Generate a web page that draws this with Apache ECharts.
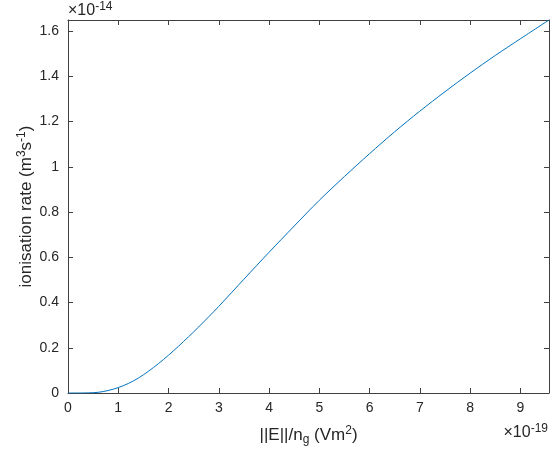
<!DOCTYPE html>
<html>
<head>
<meta charset="utf-8">
<script src="https://cdn.jsdelivr.net/npm/echarts@6/dist/echarts.min.js"></script>
<style>
html,body{margin:0;padding:0;background:#fff;}
#c{width:550px;height:460px;}
</style>
</head>
<body>
<div id="c"></div>
<script>
// E/n_g in units of 1e-19 V m^2
var fieldValues = [0, 0.2, 0.4, 0.6, 0.8, 1.0, 1.2, 1.4, 1.6, 1.8, 2.0, 2.2, 2.4, 2.6, 2.8, 3.0, 3.5, 4.0, 4.5, 5.0, 5.5, 6.0, 6.5, 7.0, 7.5, 8.0, 8.5, 9.0, 9.57];
// ionisation rate in units of 1e-14 m^3 s^-1
var rateValues = [0, 0, 0.0005, 0.003, 0.011, 0.024, 0.042, 0.066, 0.096, 0.13, 0.167, 0.207, 0.249, 0.292, 0.337, 0.383, 0.503, 0.622, 0.738, 0.852, 0.957, 1.058, 1.155, 1.246, 1.332, 1.414, 1.492, 1.566, 1.649];
var xTickLabels = ['0','1','2','3','4','5','6','7','8','9'];
var yTickLabels = ['0','0.2','0.4','0.6','0.8','1','1.2','1.4','1.6'];
var xExponent = '-19';
var yExponent = '-14';

var xMin = 0, xMax = fieldValues[fieldValues.length - 1];
var yMin = 0, yMax = rateValues[rateValues.length - 1];

var data = fieldValues.map(function (x, i) { return [x, rateValues[i]]; });

var axisColor = '#404040';
var textColor = '#262626';
var font = 'Liberation Sans';

function labelFmt(list) {
  return function (v) {
    var s = String(Math.round(v * 1000) / 1000);
    return list.indexOf(s) >= 0 ? s : '';
  };
}

var supStyle = {fontSize: 12, fontFamily: font, color: textColor, padding: [0, 0, 9, 0]};
var subStyle = {fontSize: 12, fontFamily: font, color: textColor, padding: [0, 0, -9, 0]};

var chart = echarts.init(document.getElementById('c'), null, {renderer: 'canvas'});
chart.setOption({
  backgroundColor: '#fff',
  animation: false,
  grid: {left: 68, right: 1, top: 20, bottom: 67},
  xAxis: [{
    type: 'value', min: xMin, max: xMax, interval: 1,
    axisLine: {show: true, onZero: false, lineStyle: {color: axisColor, width: 1}},
    axisTick: {show: true, inside: true, length: 5, lineStyle: {color: axisColor}},
    splitLine: {show: false},
    axisLabel: {color: textColor, fontFamily: font, fontSize: 14, margin: 8, showMaxLabel: false, formatter: labelFmt(xTickLabels)},
    name: '||E||/n{sub|g} (Vm{sup|2})',
    nameLocation: 'middle', nameGap: 32,
    nameTextStyle: {color: textColor, fontFamily: font, fontSize: 17, rich: {sub: subStyle, sup: supStyle}}
  }, {
    type: 'value', position: 'top', min: xMin, max: xMax, interval: 1,
    axisLine: {show: true, onZero: false, lineStyle: {color: axisColor, width: 1}},
    axisTick: {show: true, inside: true, length: 5, lineStyle: {color: axisColor}},
    splitLine: {show: false}, axisLabel: {show: false}
  }],
  yAxis: [{
    type: 'value', min: yMin, max: yMax, interval: 0.2,
    axisLine: {show: true, onZero: false, lineStyle: {color: axisColor, width: 1}},
    axisTick: {show: true, inside: true, length: 5, lineStyle: {color: axisColor}},
    splitLine: {show: false},
    axisLabel: {color: textColor, fontFamily: font, fontSize: 14, margin: 9, showMaxLabel: false, formatter: labelFmt(yTickLabels)},
    name: 'ionisation rate (m{sup|3}s{sup|-1})',
    nameLocation: 'middle', nameGap: 31, nameRotate: 90, nameMoveOverlap: false,
    nameTextStyle: {color: textColor, fontFamily: font, fontSize: 17, rich: {sup: supStyle}}
  }, {
    type: 'value', position: 'right', min: yMin, max: yMax, interval: 0.2,
    axisLine: {show: true, onZero: false, lineStyle: {color: axisColor, width: 1}},
    axisTick: {show: true, inside: true, length: 5, lineStyle: {color: axisColor}},
    splitLine: {show: false}, axisLabel: {show: false}
  }],
  series: [{
    type: 'line', data: data, xAxisIndex: 0, yAxisIndex: 0,
    showSymbol: false, smooth: 0.3,
    lineStyle: {color: '#0072BD', width: 1}
  }],
  graphic: [{
    type: 'text', left: 68, top: 1,
    style: {text: '×10{sup|' + yExponent + '}', fill: textColor, font: '16px ' + font,
      rich: {sup: {fontSize: 12, fontFamily: font, fill: textColor, padding: [0, 0, 8, 0]}}}
  }, {
    type: 'text', right: 2, top: 423,
    style: {text: '×10{sup|' + xExponent + '}', fill: textColor, font: '16px ' + font,
      rich: {sup: {fontSize: 12, fontFamily: font, fill: textColor, padding: [0, 0, 8, 0]}}}
  }]
});
</script>
</body>
</html>
